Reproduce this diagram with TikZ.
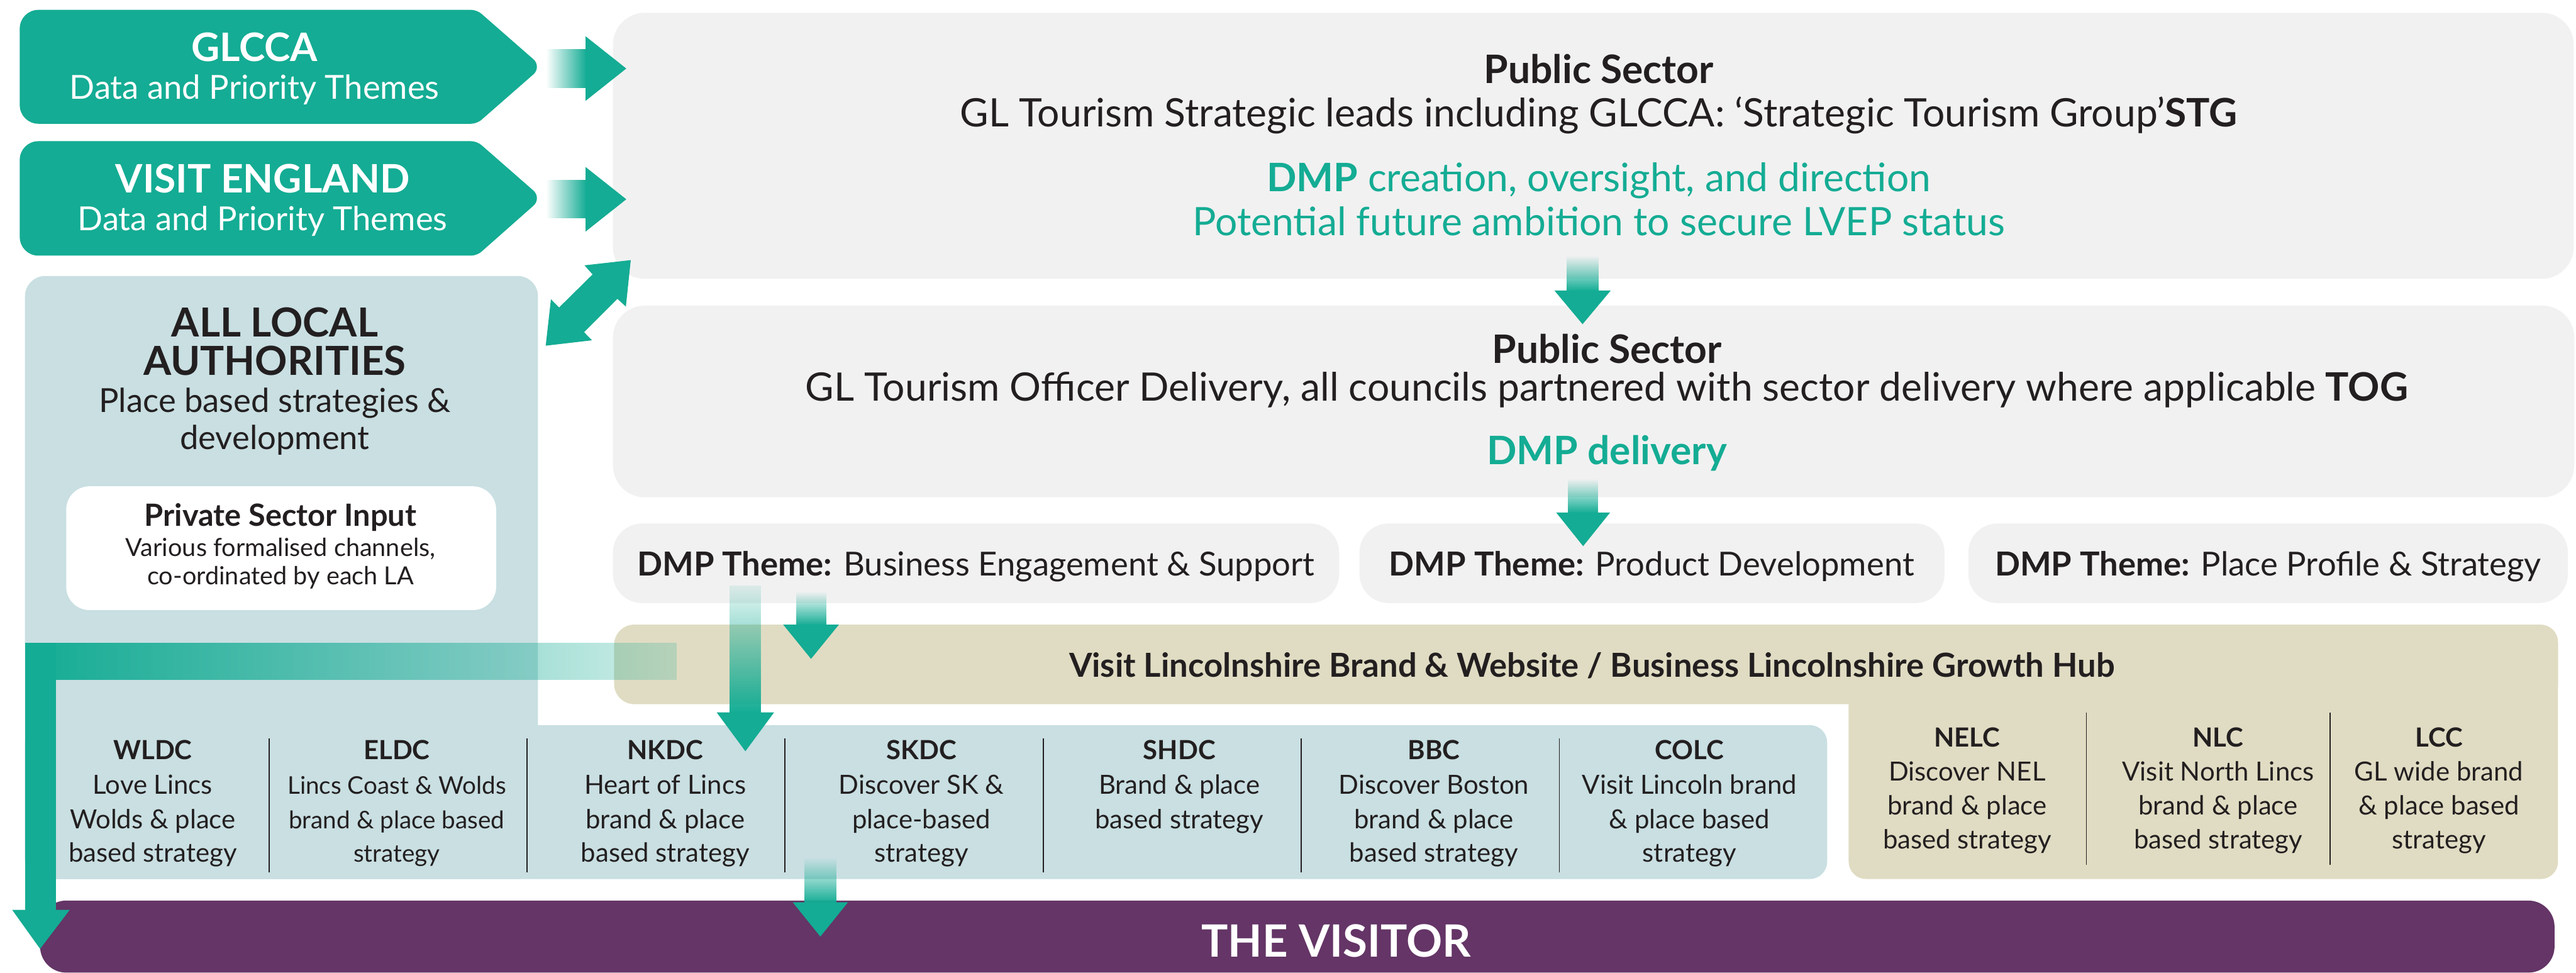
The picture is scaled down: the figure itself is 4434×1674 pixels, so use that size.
\documentclass[tikz,border=0pt]{standalone}
\usepackage{fontspec}
\setmainfont{Lato}
\usetikzlibrary{fadings}

\definecolor{tealc}{RGB}{20,172,148}
\definecolor{ink}{RGB}{35,31,32}
\definecolor{greybox}{RGB}{241,241,241}
\definecolor{lablue}{RGB}{201,223,226}
\definecolor{khaki}{RGB}{224,220,195}
\definecolor{visitor}{RGB}{100,53,102}

% fadings for the arrow shafts
\tikzfading[name=fadetop, top color=transparent!100, bottom color=transparent!0]
\tikzfading[name=fadetopfast, top color=transparent!90, middle color=transparent!0, bottom color=transparent!0]
\tikzfading[name=fadeleft, left color=transparent!100, right color=transparent!0]
\tikzfading[name=fadeband, left color=transparent!0, middle color=transparent!0, right color=transparent!80]

% font sizes
\newcommand\fMain{\fontsize{19.2pt}{22pt}\selectfont}
\newcommand\fSub{\fontsize{16.2pt}{19pt}\selectfont}
\newcommand\fLAt{\fontsize{19.6pt}{22pt}\selectfont}
\newcommand\fPSt{\fontsize{15pt}{18pt}\selectfont}
\newcommand\fPSb{\fontsize{12.2pt}{14pt}\selectfont}
\newcommand\fCol{\fontsize{12.9pt}{15pt}\selectfont}
\newcommand\fColS{\fontsize{11.9pt}{14pt}\selectfont}
\newcommand\fVis{\fontsize{21.8pt}{25pt}\selectfont}

% vertical block arrow: x, shaft top, head base, tip, shaft half width, head half width, fading
\newcommand\blockdown[7]{%
  \fill[tealc, path fading=#7] (#1-#5,#2) rectangle (#1+#5,#3+1);
  \fill[tealc] (#1-#6,#3) -- (#1+#6,#3) -- (#1,#4) -- cycle;
}
% horizontal block arrow: y, shaft left, head base, tip x, shaft half, head half
\newcommand\blockright[6]{%
  \fill[tealc, path fading=fadeleft] (#2,#1-#5) rectangle (#3+1,#1+#5);
  \fill[tealc] (#3,#1-#6) -- (#3,#1+#6) -- (#4,#1) -- cycle;
}

\begin{document}
\begin{tikzpicture}[x=0.01cm, y=-0.01cm,
  txt/.style={inner sep=0pt, anchor=base, text=ink},
  wtxt/.style={inner sep=0pt, anchor=base, text=white},
  ttxt/.style={inner sep=0pt, anchor=base, text=tealc},
  sep/.style={draw=ink, line width=0.5pt}]
\useasboundingbox (0,0) rectangle (4434,1674);

% ---------- grey public sector panels ----------
\fill[greybox, rounded corners=0.55cm] (1055,22) rectangle (4430,480);
\fill[greybox, rounded corners=0.55cm] (1055,526) rectangle (4431,856);
\fill[greybox, rounded corners=0.5cm] (1055,901) rectangle (2305,1038);
\fill[greybox, rounded corners=0.5cm] (2340,901) rectangle (3347,1038);
\fill[greybox, rounded corners=0.5cm] (3388,901) rectangle (4420,1038);

% ---------- local authority panel (column + strip) ----------
\fill[lablue, rounded corners=0.35cm] (43,475) rectangle (926,1513);
\fill[lablue, rounded corners=0.3cm] (43,1248) rectangle (3145,1513);
\fill[white, rounded corners=0.4cm] (114,837) rectangle (854,1050);

% ---------- Visit Lincolnshire band ----------
\fill[khaki, rounded corners=0.35cm] (1057,1075) rectangle (4403,1212);
\fill[khaki, rounded corners=0.3cm] (3182,1075) rectangle (4403,1513);

% ---------- the visitor ----------
\fill[visitor, rounded corners=0.45cm] (69,1550) rectangle (4397,1674);

% ---------- teal chevrons ----------
\fill[tealc] (430,17) [rounded corners=0.1cm] -- (821,17) [rounded corners=0.2cm] -- (933,115)
  [rounded corners=0.1cm] -- (821,213) [rounded corners=0.32cm] -- (34,213) -- (34,17) -- cycle;
\fill[tealc] (430,243) [rounded corners=0.1cm] -- (821,243) [rounded corners=0.2cm] -- (933,341)
  [rounded corners=0.1cm] -- (821,440) [rounded corners=0.32cm] -- (34,440) -- (34,243) -- cycle;

% ---------- texts: chevrons ----------
\node[wtxt, font=\fMain\bfseries] (glcca) at (438,106) {GLCCA};
\node[wtxt, font=\fSub] (glccasub) at (438,171) {Data and Priority Themes};
\node[wtxt, font=\fMain\bfseries] (ve) at (452,332) {VISIT ENGLAND};
\node[wtxt, font=\fSub] (vesub) at (452,397) {Data and Priority Themes};

% ---------- texts: strategic group ----------
\node[txt, font=\fMain\bfseries] (stgA) at (2752,143) {Public Sector};
\node[txt, font=\fMain] (stgB) at (2752,218) {GL Tourism Strategic leads including GLCCA: ‘Strategic Tourism Group’\textbf{STG}};
\node[ttxt, font=\fMain] (stgC) at (2752,330) {\textbf{DMP} creation, oversight, and direction};
\node[ttxt, font=\fMain] (stgD) at (2752,405) {Potential future ambition to secure LVEP status};

% ---------- texts: officer group ----------
\node[txt, font=\fMain\bfseries] (togA) at (2766,625) {Public Sector};
\node[txt, font=\fMain] (togB) at (2766,690) {GL Tourism Officer Delivery, all councils partnered with sector delivery where applicable \textbf{TOG}};
\node[ttxt, font=\fMain\bfseries] (togC) at (2766,799) {DMP delivery};

% ---------- texts: themes ----------
\node[txt, font=\fSub] (th1) at (1680,991) {\textbf{DMP Theme:} Business Engagement \& Support};
\node[txt, font=\fSub] (th2) at (2843,991) {\textbf{DMP Theme:} Product Development};
\node[txt, font=\fSub] (th3) at (3904,991) {\textbf{DMP Theme:} Place Profile \& Strategy};

\node[txt, font=\fSub\bfseries] (vl) at (2740,1165) {Visit Lincolnshire Brand \& Website / Business Lincolnshire Growth Hub};

% ---------- texts: local authorities ----------
\node[txt, font=\fLAt\bfseries] (laA) at (473,580) {ALL LOCAL};
\node[txt, font=\fLAt\bfseries] (laB) at (473,646) {AUTHORITIES};
\node[txt, font=\fSub] (laC) at (473,710) {Place based strategies \&};
\node[txt, font=\fSub] (laD) at (473,774) {development};
\node[txt, font=\fPSt\bfseries] (psA) at (483,906) {Private Sector Input};
\node[txt, font=\fPSb] (psB) at (483,957) {Various formalised channels,};
\node[txt, font=\fPSb] (psC) at (483,1006) {co-ordinated by each LA};

% ---------- council columns ----------
\foreach \x in {463,907,1351,1796,2240,2684}
  \draw[sep] (\x,1271) -- (\x,1501);
\foreach \x in {3591,4011}
  \draw[sep] (\x,1226) -- (\x,1488);

\foreach \x/\n/\t/\a/\b/\c in {
  263/wldc/WLDC/Love Lincs/Wolds \& place/based strategy,
  1145/nkdc/NKDC/Heart of Lincs/brand \& place/based strategy,
  1586/skdc/SKDC/Discover SK \&/place-based/strategy,
  2030/shdc/SHDC/Brand \& place/based strategy/,
  2468/bbc/BBC/Discover Boston/brand \& place/based strategy,
  2908/colc/COLC/Visit Lincoln brand/\& place based/strategy}{
  \node[txt, font=\fCol\bfseries] (\n) at (\x,1307) {\t};
  \node[txt, font=\fCol] (\n-1) at (\x,1367) {\a};
  \node[txt, font=\fCol] (\n-2) at (\x,1426) {\b};
  \node[txt, font=\fCol] (\n-3) at (\x,1484) {\c};
}
\node[txt, font=\fCol\bfseries] (eldc) at (683,1307) {ELDC};
\node[txt, font=\fColS] (eldc-1) at (683,1367) {Lincs Coast \& Wolds};
\node[txt, font=\fColS] (eldc-2) at (683,1426) {brand \& place based};
\node[txt, font=\fColS] (eldc-3) at (683,1484) {strategy};

\foreach \x/\n/\t/\a/\b/\c in {
  3386/nelc/NELC/Discover NEL/brand \& place/based strategy,
  3818/nlc/NLC/Visit North Lincs/brand \& place/based strategy,
  4198/lcc/LCC/GL wide brand/\& place based/strategy}{
  \node[txt, font=\fCol\bfseries] (\n) at (\x,1285) {\t};
  \node[txt, font=\fCol] (\n-1) at (\x,1344) {\a};
  \node[txt, font=\fCol] (\n-2) at (\x,1402) {\b};
  \node[txt, font=\fCol] (\n-3) at (\x,1461) {\c};
}

\node[wtxt, font=\fVis\bfseries] (visitor) at (2300,1647) {THE VISITOR};

% ---------- arrows ----------
\blockright{118}{940}{1008}{1078}{33.5}{55.5}
\blockright{343}{940}{1008}{1078}{33}{55.5}

\fill[tealc] (1085.7,447.7) -- (1006,456.7) -- (1020,472.3) -- (962.3,529.3) -- (948.3,515)
  -- (939.3,595) -- (1019,585.7) -- (1005.3,571.7) -- (1062.7,514.3) -- (1077.3,527.7) -- cycle;

\blockdown{2724}{440}{500}{558}{28}{48.5}{fadetop}
\blockdown{2725}{824}{882}{940}{26}{46.5}{fadetop}
\blockdown{1283}{1008}{1226}{1293}{27}{49.5}{fadetopfast}
\blockdown{1396}{1018}{1075}{1134}{26}{48}{fadetop}
\blockdown{1412}{1476}{1553}{1612}{27.5}{47.5}{fadetop}

% L-shaped feed from the local authorities to the visitor
\fill[tealc, path fading=fadeband] (43,1106) rectangle (1165,1170);
\fill[tealc] (43,1106) rectangle (96.7,1567);
\fill[tealc] (21,1566) -- (120,1566) -- (69,1633) -- cycle;
\end{tikzpicture}
\end{document}
